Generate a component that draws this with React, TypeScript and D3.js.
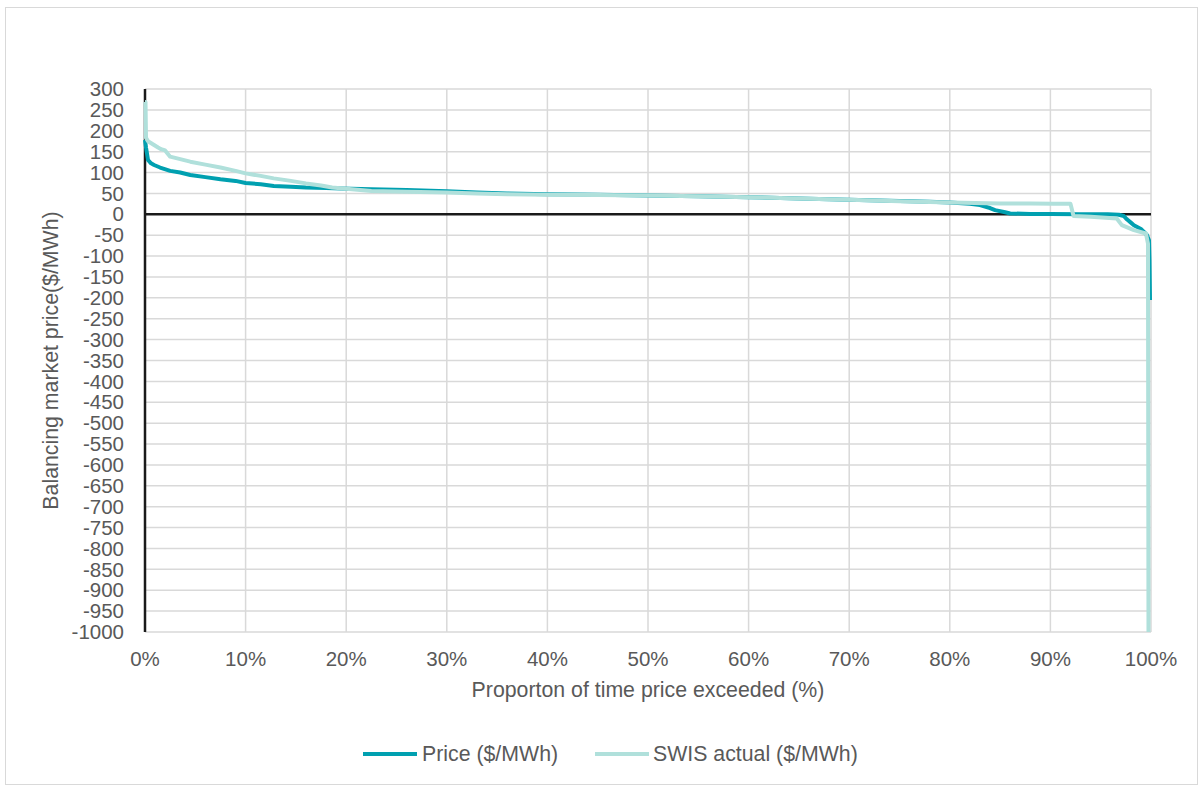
import React from "react";
import * as d3 from "d3";

const yTicks: number[] = d3.range(-1000, 301, 50);
const xTicks: number[] = d3.range(0, 101, 10);

const priceX: number[] = [0, 0.1, 0.3, 0.6, 0.9, 1.5, 2.5, 3.5, 4.5, 6, 7.5, 9, 10, 11.5, 12.8, 14.5, 16, 18, 19.5, 22.5, 26, 30, 33, 36, 40, 45, 50, 55, 60, 65, 70, 75, 78, 80, 82, 83, 84, 84.5, 85.5, 86, 88, 90, 93, 95.7, 96.8, 97.3, 97.6, 98, 98.3, 99, 99.3, 99.6, 99.8, 99.85, 99.9];
const priceY: number[] = [178, 160, 130, 122, 118, 112, 104, 100, 94, 89, 84, 80, 75, 72, 68, 66, 64, 63, 62, 60, 58, 55, 52, 50, 48, 47, 45, 43, 41, 38, 35, 32, 30, 28, 25, 22, 15, 10, 5, 2, 1, 1, 0, 0, -1, -4, -12, -20, -26, -35, -42, -50, -62, -110, -205];

const swisX: number[] = [0, 0.05, 0.1, 0.3, 0.9, 1.3, 1.6, 2, 2.5, 3.5, 4.5, 6, 7.5, 9, 10, 11.5, 12.8, 14.5, 16, 17.5, 18.6, 20, 22.5, 26, 30, 33, 36, 40, 45, 50, 55, 60, 65, 70, 75, 80, 85, 88, 90.3, 92, 92.3, 94, 96.6, 97.1, 98.3, 99.5, 99.7, 99.75];
const swisY: number[] = [269, 269, 183, 175, 166, 160, 156, 153, 138, 132, 126, 119, 112, 104, 98, 92, 86, 80, 74, 69, 64, 61, 56, 54, 52, 50, 48, 47, 46, 45, 43, 41, 38, 35, 31, 28, 26, 26, 25, 25, -4, -6, -10, -26, -38, -46, -70, -1000];

const seriesNames: string[] = ["Price ($/MWh)", "SWIS actual ($/MWh)"];
const colors: string[] = ["#00A0B0", "#B0E0DB"];

const FONT = "'Liberation Sans', Arial, sans-serif";
const TEXT = "#595959";
const TICK_FS = 20.5;
const LABEL_FS = 21.3;

export default function App() {
  const x = d3.scaleLinear().domain([0, 100]).range([145, 1151]);
  const y = d3.scaleLinear().domain([-1000, 300]).range([632, 89]);
  const line = d3
    .line<[number, number]>()
    .x((d) => x(d[0]))
    .y((d) => y(d[1]));

  const priceData = priceX.map((v, i) => [v, priceY[i]] as [number, number]);
  const swisData = swisX.map((v, i) => [v, swisY[i]] as [number, number]);

  return (
    <svg
      width={1203}
      height={787}
      style={{ position: "absolute", left: 0, top: 0, background: "#fff" }}
      fontFamily={FONT}
    >
      <rect x={5.5} y={7.5} width={1192} height={777} fill="#fff" stroke="#D9D9D9" strokeWidth={1} />
      {yTicks.map((t) => (
        <line key={"gy" + t} x1={x(0)} x2={x(100)} y1={y(t)} y2={y(t)} stroke="#D9D9D9" strokeWidth={1.5} />
      ))}
      {xTicks.map((t) => (
        <line key={"gx" + t} x1={x(t)} x2={x(t)} y1={y(300)} y2={y(-1000)} stroke="#D9D9D9" strokeWidth={1.5} />
      ))}
      <line x1={x(0)} x2={x(100)} y1={y(0)} y2={y(0)} stroke="#1a1a1a" strokeWidth={2.5} />
      <line x1={x(0)} x2={x(0)} y1={y(300)} y2={y(-1000)} stroke="#1a1a1a" strokeWidth={2.5} />
      <path d={line(priceData) || ""} fill="none" stroke={colors[0]} strokeWidth={4} strokeLinejoin="round" />
      <path d={line(swisData) || ""} fill="none" stroke={colors[1]} strokeWidth={4} strokeLinejoin="round" />
      {yTicks.map((t) => (
        <text key={"ty" + t} x={124} y={y(t)} dy="0.35em" textAnchor="end" fontSize={TICK_FS} fill={TEXT}>
          {t}
        </text>
      ))}
      {xTicks.map((t) => (
        <text key={"tx" + t} x={x(t)} y={666} textAnchor="middle" fontSize={TICK_FS} fill={TEXT}>
          {t + "%"}
        </text>
      ))}
      <text x={648} y={697} textAnchor="middle" fontSize={LABEL_FS} fill={TEXT}>
        Proporton of time price exceeded (%)
      </text>
      <text
        transform={`translate(58, ${y(-350)}) rotate(-90)`}
        textAnchor="middle"
        fontSize={LABEL_FS}
        fill={TEXT}
      >
        Balancing market price($/MWh)
      </text>
      <line x1={363} x2={417} y1={754} y2={754} stroke={colors[0]} strokeWidth={4} />
      <text x={422} y={754} dy="0.35em" fontSize={LABEL_FS} fill={TEXT}>
        {seriesNames[0]}
      </text>
      <line x1={595} x2={649} y1={754} y2={754} stroke={colors[1]} strokeWidth={4} />
      <text x={653} y={754} dy="0.35em" fontSize={LABEL_FS} fill={TEXT}>
        {seriesNames[1]}
      </text>
    </svg>
  );
}
